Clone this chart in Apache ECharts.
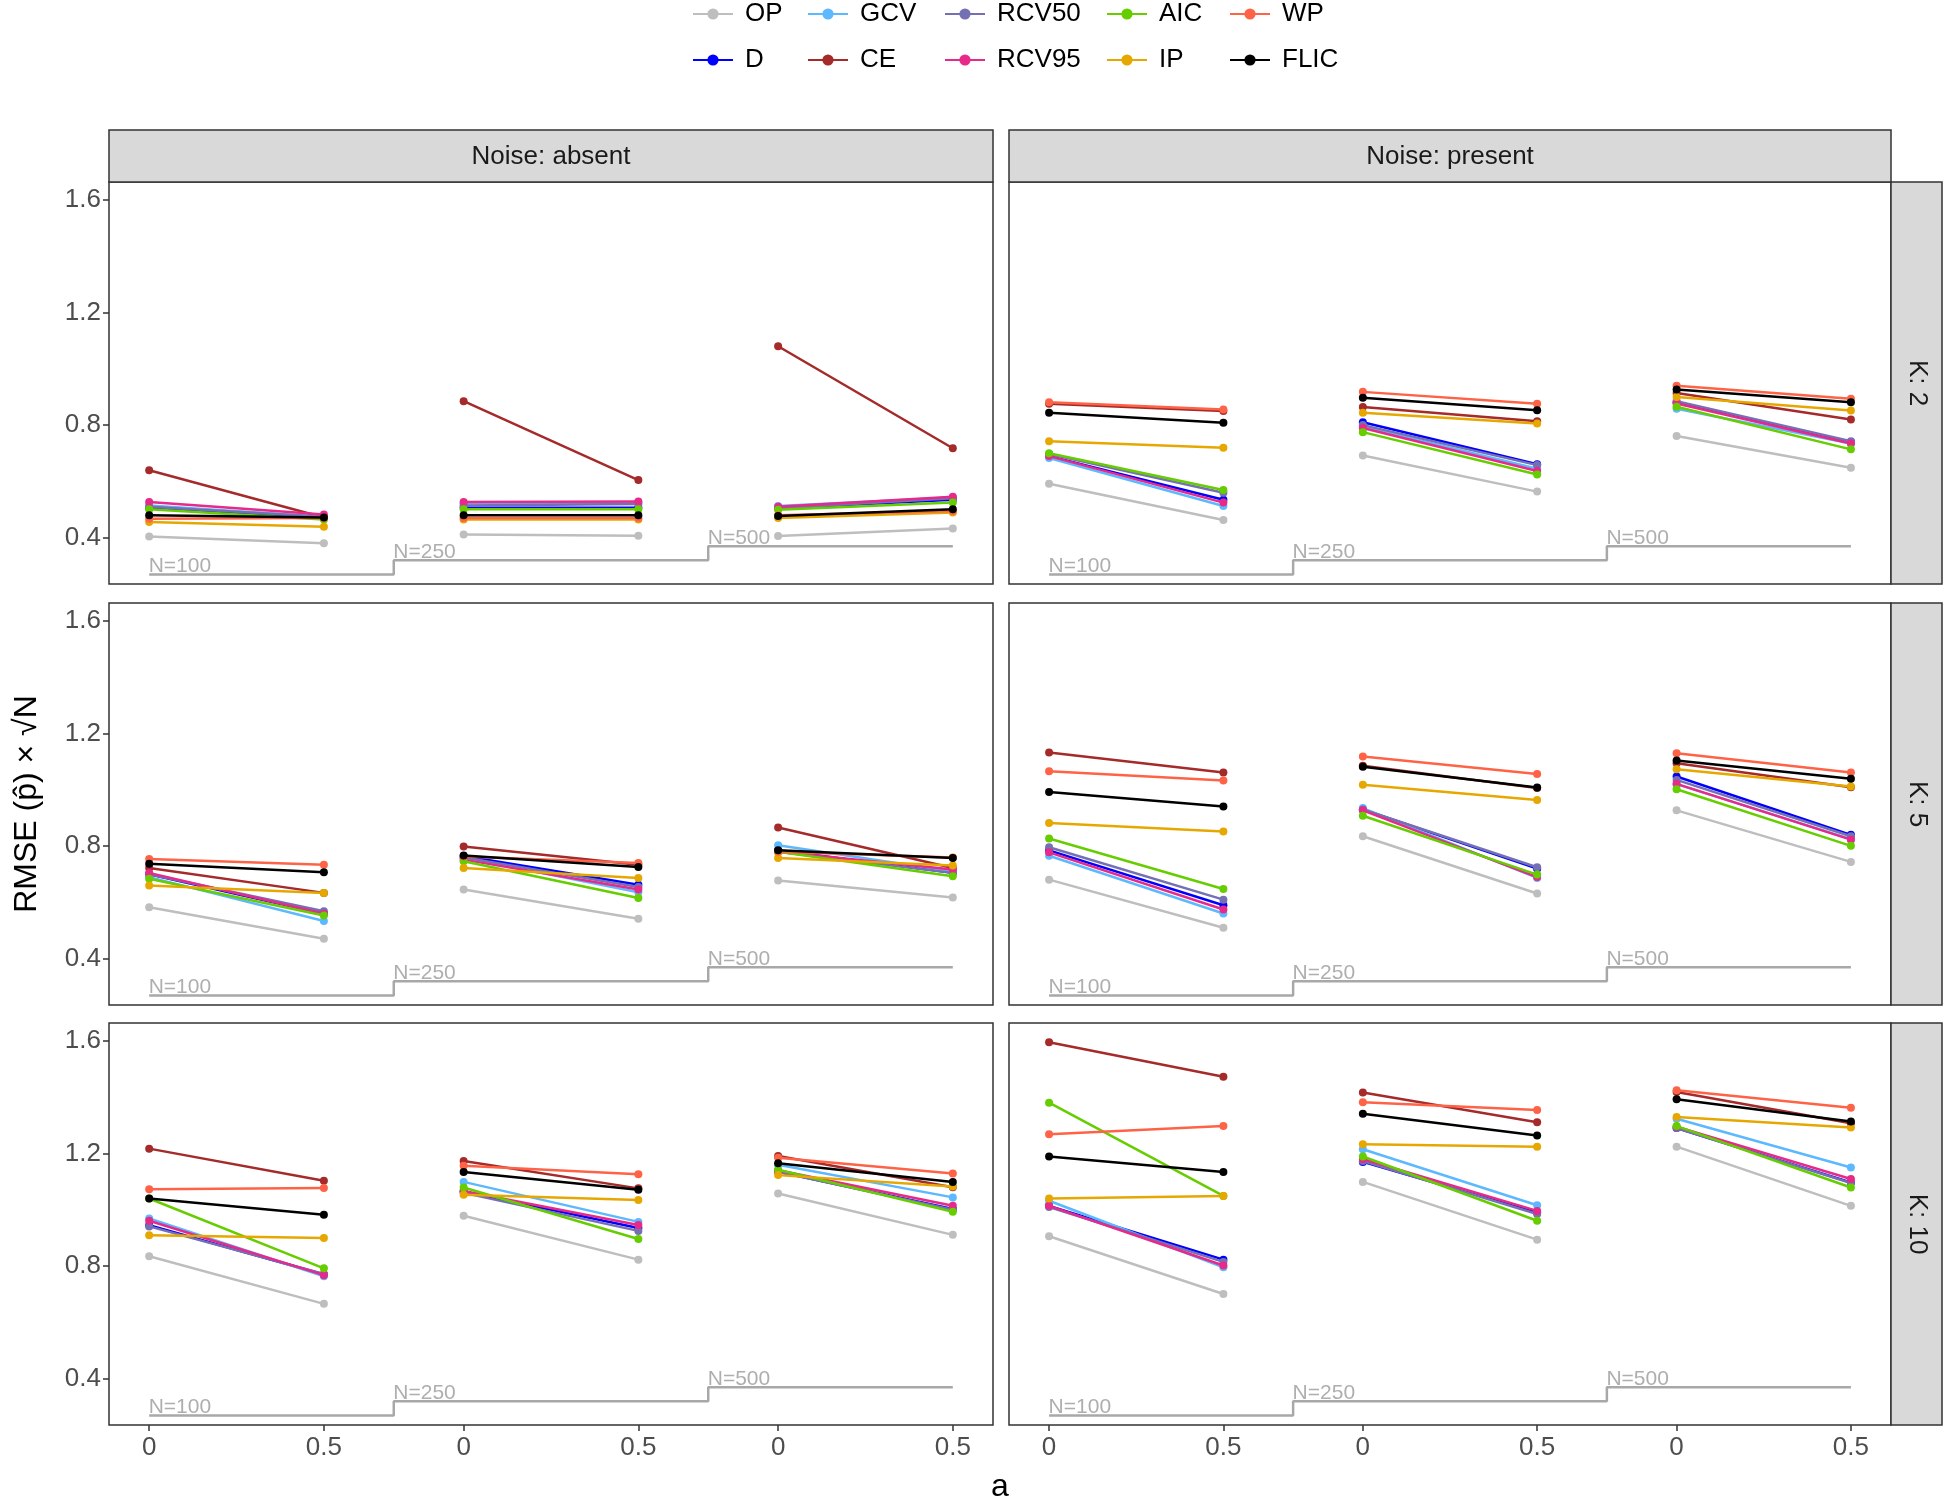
<!DOCTYPE html>
<html lang="en">
  <head>
    <meta charset="UTF-8" />
    <title>RMSE by method, noise and K</title>
    <script src="https://cdn.jsdelivr.net/npm/echarts@6.0.0/dist/echarts.min.js"></script>
    <style>
      html, body { margin: 0; padding: 0; background: #fff; }
    </style>
  </head>
  <body>
    <div id="chart" style="width: 1946px; height: 1502px"></div>
    <script>
      // methods in legend order (column-major, two rows)
      const methods = ["OP", "D", "GCV", "CE", "RCV50", "RCV95", "AIC", "IP", "WP", "FLIC"];
      const methodColors = ["#BEBEBE", "#0000FF", "#5CB8FF", "#A52A2A", "#7570B3", "#E7298A", "#66CD00", "#E6A800", "#FF6347", "#000000"];

      // x positions: three N groups, each with a = 0 and a = 0.5
      const xPositions = [0, 0.5, 0.9, 1.4, 1.8, 2.3];
      const xTickLabels = ["0", "0.5", "0", "0.5", "0", "0.5"];
      const yTicks = [0.4, 0.8, 1.2, 1.6];

      // sample size step line
      const sampleSizes = ["N=100", "N=250", "N=500"];
      const stepStarts = [0, 0.7, 1.6];
      const stepEnd = 2.3;
      const stepLevels = [0.27, 0.32, 0.37];

      const noiseLabels = ["Noise: absent", "Noise: present"];
      const kLabels = ["K: 2", "K: 5", "K: 10"];

      // rows follow the methods order; 6 values follow xPositions
      const k2Absent = [
        [0.405, 0.381, 0.412, 0.407, 0.406, 0.433],
        [0.505, 0.47, 0.507, 0.507, 0.505, 0.535],
        [0.515, 0.475, 0.523, 0.525, 0.513, 0.543],
        [0.64, 0.472, 0.885, 0.605, 1.08, 0.718],
        [0.51, 0.475, 0.515, 0.52, 0.505, 0.54],
        [0.527, 0.483, 0.527, 0.529, 0.51, 0.546],
        [0.501, 0.465, 0.501, 0.501, 0.5, 0.525],
        [0.456, 0.439, 0.465, 0.465, 0.47, 0.49],
        [0.468, 0.47, 0.47, 0.47, 0.48, 0.495],
        [0.48, 0.472, 0.48, 0.48, 0.477, 0.501],
      ];
      const k2Present = [
        [0.592, 0.463, 0.692, 0.564, 0.761, 0.649],
        [0.69, 0.535, 0.81, 0.661, 0.88, 0.74],
        [0.683, 0.513, 0.795, 0.645, 0.858, 0.735],
        [0.876, 0.85, 0.864, 0.814, 0.914, 0.82],
        [0.697, 0.56, 0.8, 0.658, 0.885, 0.743],
        [0.69, 0.525, 0.79, 0.637, 0.877, 0.735],
        [0.7, 0.57, 0.775, 0.625, 0.865, 0.714],
        [0.743, 0.72, 0.844, 0.806, 0.9, 0.852],
        [0.881, 0.855, 0.918, 0.876, 0.94, 0.894],
        [0.844, 0.808, 0.897, 0.853, 0.926, 0.881],
      ];
      const k5Absent = [
        [0.583, 0.471, 0.646, 0.542, 0.678, 0.618],
        [0.7, 0.56, 0.765, 0.663, 0.785, 0.705],
        [0.69, 0.534, 0.76, 0.636, 0.803, 0.71],
        [0.722, 0.634, 0.799, 0.734, 0.866, 0.722],
        [0.7, 0.569, 0.76, 0.655, 0.78, 0.705],
        [0.705, 0.56, 0.752, 0.646, 0.78, 0.717],
        [0.684, 0.554, 0.746, 0.616, 0.78, 0.693],
        [0.66, 0.634, 0.722, 0.687, 0.758, 0.731],
        [0.754, 0.734, 0.763, 0.74, 0.78, 0.76],
        [0.737, 0.707, 0.767, 0.726, 0.785, 0.758],
      ];
      const k5Present = [
        [0.681, 0.51, 0.835, 0.632, 0.927, 0.744],
        [0.785, 0.59, 0.93, 0.72, 1.047, 0.84],
        [0.766, 0.561, 0.935, 0.687, 1.02, 0.825],
        [1.132, 1.061, 1.085, 1.006, 1.094, 1.009],
        [0.796, 0.61, 0.93, 0.725, 1.035, 0.835],
        [0.778, 0.575, 0.927, 0.69, 1.021, 0.823],
        [0.827, 0.648, 0.908, 0.699, 1.002, 0.801],
        [0.882, 0.852, 1.018, 0.964, 1.073, 1.012],
        [1.066, 1.033, 1.118, 1.056, 1.13, 1.061],
        [0.992, 0.941, 1.082, 1.008, 1.104, 1.039],
      ];
      const k10Absent = [
        [0.835, 0.666, 0.979, 0.823, 1.058, 0.911],
        [0.945, 0.77, 1.065, 0.935, 1.135, 1.003],
        [0.969, 0.764, 1.099, 0.957, 1.16, 1.044],
        [1.217, 1.103, 1.173, 1.076, 1.191, 1.08],
        [0.941, 0.772, 1.06, 0.925, 1.135, 1.0],
        [0.961, 0.768, 1.067, 0.946, 1.14, 1.014],
        [1.04, 0.792, 1.079, 0.896, 1.142, 0.993],
        [0.91, 0.9, 1.053, 1.035, 1.123, 1.083],
        [1.073, 1.077, 1.156, 1.126, 1.185, 1.129],
        [1.04, 0.982, 1.134, 1.071, 1.165, 1.099],
      ];
      const k10Present = [
        [0.906, 0.701, 1.099, 0.894, 1.224, 1.014],
        [1.014, 0.823, 1.17, 0.99, 1.29, 1.097],
        [1.032, 0.796, 1.215, 1.016, 1.323, 1.15],
        [1.595, 1.472, 1.416, 1.311, 1.418, 1.307],
        [1.01, 0.815, 1.173, 0.985, 1.29, 1.095],
        [1.014, 0.802, 1.18, 0.996, 1.295, 1.109],
        [1.38, 1.049, 1.189, 0.961, 1.297, 1.079],
        [1.04, 1.049, 1.233, 1.224, 1.329, 1.292],
        [1.268, 1.297, 1.382, 1.354, 1.424, 1.362],
        [1.189, 1.134, 1.341, 1.264, 1.392, 1.313],
      ];

      const panels = [
        [k2Absent, k2Present],
        [k5Absent, k5Present],
        [k10Absent, k10Present],
      ];

      const colLeft = [109, 1009];
      const colWidth = [884, 882];
      const rowTop = [182, 603, 1023];
      const rowHeight = 402;
      const font = "Liberation Sans, Arial, sans-serif";

      const nearestLabel = (v) => {
        let best = 0;
        xPositions.forEach((p, i) => {
          if (Math.abs(p - v) < Math.abs(xPositions[best] - v)) best = i;
        });
        return xTickLabels[best];
      };

      const grid = [];
      const xAxis = [];
      const yAxis = [];
      const series = [];

      panels.forEach((rowData, r) => {
        rowData.forEach((values, c) => {
          const i = grid.length;
          grid.push({
            left: colLeft[c],
            top: rowTop[r],
            width: colWidth[c],
            height: rowHeight,
            show: true,
            borderColor: "#333333",
            borderWidth: 1.5,
            backgroundColor: "#ffffff",
          });
          xAxis.push({
            gridIndex: i,
            type: "value",
            min: -0.115,
            max: 2.415,
            axisLine: { show: false, onZero: false },
            splitLine: { show: false },
            axisTick: {
              show: r === 2,
              length: 6,
              customValues: xPositions,
              lineStyle: { color: "#333333", width: 1.5 },
            },
            axisLabel: {
              show: r === 2,
              customValues: xPositions,
              formatter: nearestLabel,
              color: "#4D4D4D",
              fontSize: 26,
              fontFamily: font,
              margin: 10,
            },
          });
          const y = {
            gridIndex: i,
            type: "value",
            min: 0.236,
            max: 1.663,
            axisLine: { show: false, onZero: false },
            splitLine: { show: false },
            axisTick: {
              show: c === 0,
              length: 6,
              customValues: yTicks,
              lineStyle: { color: "#333333", width: 1.5 },
            },
            axisLabel: {
              show: c === 0,
              customValues: yTicks,
              formatter: (v) => v.toFixed(1),
              color: "#4D4D4D",
              fontSize: 26,
              fontFamily: font,
              margin: 8,
            },
          };
          if (r === 1 && c === 0) {
            y.name = "RMSE (p\u0302) \u00d7 \u221aN";
            y.nameLocation = "middle";
            y.nameGap = 66;
            y.nameTextStyle = { fontSize: 32, color: "#000", fontFamily: font };
          }
          yAxis.push(y);

          // sample size step line and its labels
          const stepData = stepStarts.map((s, k) => [s, stepLevels[k]]);
          stepData.push([stepEnd, stepLevels[stepLevels.length - 1]]);
          series.push({
            type: "line",
            xAxisIndex: i,
            yAxisIndex: i,
            step: "end",
            data: stepData,
            symbol: "none",
            silent: true,
            lineStyle: { color: "#A8A8A8", width: 2.5 },
            z: 1,
          });
          series.push({
            type: "scatter",
            xAxisIndex: i,
            yAxisIndex: i,
            data: stepStarts.map((s, k) => [s, stepLevels[k]]),
            symbolSize: 1,
            silent: true,
            itemStyle: { color: "transparent" },
            label: {
              show: true,
              position: [0, 3],
              align: "left",
              verticalAlign: "bottom",
              formatter: (p) => sampleSizes[p.dataIndex],
              color: "#9A9A9A",
              fontSize: 21,
              fontFamily: font,
            },
            z: 1,
          });

          methods.forEach((m, k) => {
            const pts = [];
            values[k].forEach((v, j) => {
              if (j === 2 || j === 4) pts.push([(xPositions[j - 1] + xPositions[j]) / 2, "-"]);
              pts.push([xPositions[j], v]);
            });
            series.push({
              type: "line",
              name: m,
              xAxisIndex: i,
              yAxisIndex: i,
              data: pts,
              color: methodColors[k],
              symbol: "circle",
              symbolSize: 8,
              showAllSymbol: true,
              connectNulls: false,
              lineStyle: { width: 2.5 },
              emphasis: { disabled: true },
              z: 2 + k,
            });
          });
        });
      });

      // legend: five columns, two rows each
      const legendLeft = [687, 802, 939, 1101, 1224];
      const legend = legendLeft.map((left, col) => ({
        left: left,
        top: -5,
        orient: "vertical",
        itemWidth: 40,
        itemHeight: 14,
        itemGap: 18,
        selectedMode: false,
        data: [methods[col * 2], methods[col * 2 + 1]],
        textStyle: {
          fontSize: 26,
          lineHeight: 28,
          color: "#000",
          fontFamily: font,
          padding: [0, 0, 0, 7],
        },
      }));

      // facet strips
      const graphic = [];
      colLeft.forEach((x, c) => {
        graphic.push({
          type: "rect",
          shape: { x: x, y: 130, width: colWidth[c], height: 52 },
          style: { fill: "#D9D9D9", stroke: "#333333", lineWidth: 1.5 },
        });
        graphic.push({
          type: "text",
          x: x + colWidth[c] / 2,
          y: 157,
          style: {
            text: noiseLabels[c],
            align: "center",
            verticalAlign: "middle",
            fontSize: 26,
            fill: "#1A1A1A",
            fontFamily: font,
          },
        });
      });
      rowTop.forEach((y, r) => {
        graphic.push({
          type: "rect",
          shape: { x: 1891, y: y, width: 51, height: rowHeight },
          style: { fill: "#D9D9D9", stroke: "#333333", lineWidth: 1.5 },
        });
        graphic.push({
          type: "text",
          x: 1917,
          y: y + rowHeight / 2,
          rotation: -Math.PI / 2,
          style: {
            text: kLabels[r],
            align: "center",
            verticalAlign: "middle",
            fontSize: 26,
            fill: "#1A1A1A",
            fontFamily: font,
          },
        });
      });
      graphic.push({
        type: "text",
        x: 1000,
        y: 1487,
        style: {
          text: "a",
          align: "center",
          verticalAlign: "middle",
          fontSize: 32,
          fill: "#000",
          fontFamily: font,
        },
      });

      const chart = echarts.init(document.getElementById("chart"));
      chart.setOption({
        animation: false,
        backgroundColor: "#ffffff",
        legend: legend,
        grid: grid,
        xAxis: xAxis,
        yAxis: yAxis,
        series: series,
        graphic: graphic,
      });
    </script>
  </body>
</html>
